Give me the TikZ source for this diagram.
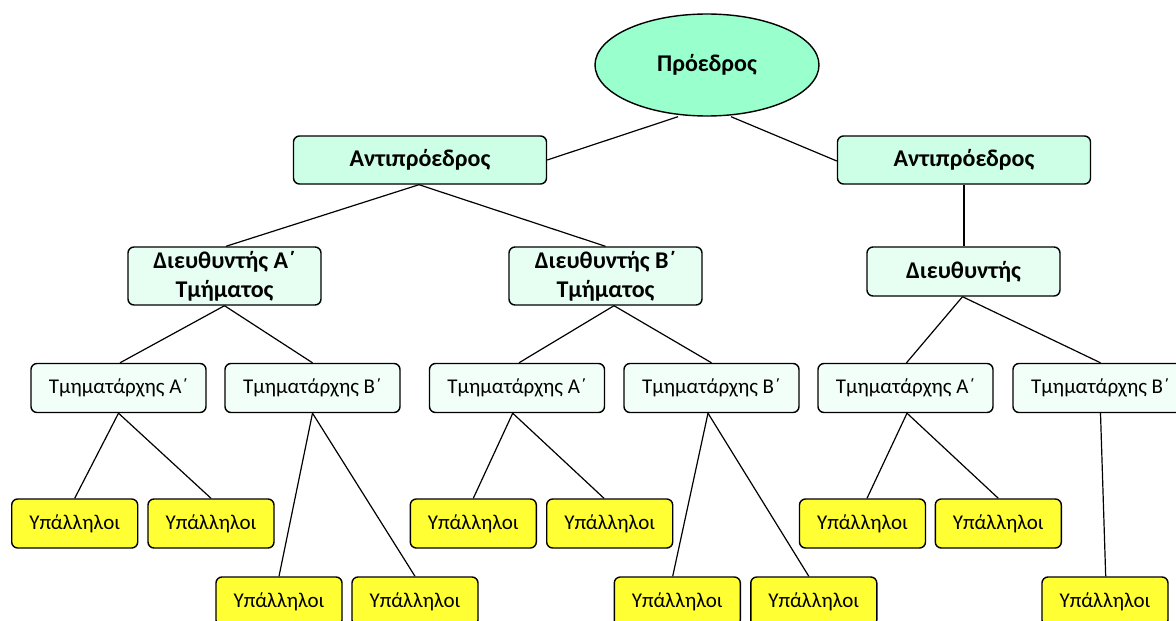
\documentclass[tikz,border=0pt]{standalone}
\usepackage{fontspec}
\setmainfont{Carlito}
\usetikzlibrary{shapes.geometric}
\definecolor{presfill}{RGB}{153,255,204}
\definecolor{vpfill}{RGB}{204,255,230}
\definecolor{dirfill}{RGB}{230,255,242}
\definecolor{tmfill}{RGB}{242,255,249}
\definecolor{empfill}{RGB}{255,255,51}
\tikzset{
  base/.style={draw=black, line width=1.4pt, rounded corners=6pt, inner sep=0pt, align=center,
    font=\fontsize{21}{27}\selectfont},
  boldtext/.style={font=\fontsize{24}{29}\selectfont\bfseries},
  presbox/.style={base, ellipse, rounded corners=0pt, fill=presfill, minimum width=224, minimum height=102, boldtext},
  vpbox/.style={base, fill=vpfill, minimum width=253, minimum height=48, boldtext},
  dirbox/.style={base, fill=dirfill, minimum width=193, minimum height=58, boldtext},
  tmbox/.style={base, fill=tmfill, minimum width=175, minimum height=49},
  empbox/.style={base, fill=empfill, minimum width=126, minimum height=49},
  link/.style={draw=black, line width=1.2pt}
}
\begin{document}
\begin{tikzpicture}[x=1pt,y=-1pt]
\useasboundingbox (0,0) rectangle (1176,621);
\clip (0,0) rectangle (1176,621);
% level 0
\node[presbox] (pres) at (707,65) {Πρόεδρος};
% level 1
\node[vpbox] (vpL) at (420,160) {Αντιπρόεδρος};
\node[vpbox] (vpR) at (964,160) {Αντιπρόεδρος};
% level 2
\node[dirbox] (dA) at (224.5,276) {Διευθυντής Α΄\\Τμήματος};
\node[dirbox] (dB) at (605.5,276) {Διευθυντής Β΄\\Τμήματος};
\node[dirbox, minimum height=49] (dC) at (963.5,271.5) {Διευθυντής};
% level 3
\node[tmbox] (tA1) at (118.5,388) {Τμηματάρχης Α΄};
\node[tmbox] (tB1) at (312.5,388) {Τμηματάρχης Β΄};
\node[tmbox] (tA2) at (517,388) {Τμηματάρχης Α΄};
\node[tmbox] (tB2) at (711.5,388) {Τμηματάρχης Β΄};
\node[tmbox] (tA3) at (905.5,388) {Τμηματάρχης Α΄};
\node[tmbox] (tB3) at (1100.5,388) {Τμηματάρχης Β΄};
% level 4, row 1
\node[empbox] (e1) at (74.7,523.5) {Υπάλληλοι};
\node[empbox] (e2) at (211,523.5) {Υπάλληλοι};
\node[empbox] (e3) at (473.3,523.5) {Υπάλληλοι};
\node[empbox] (e4) at (609.7,523.5) {Υπάλληλοι};
\node[empbox] (e5) at (862.5,523.5) {Υπάλληλοι};
\node[empbox] (e6) at (998.3,523.5) {Υπάλληλοι};
% level 4, row 2
\node[empbox] (f1) at (279,601.5) {Υπάλληλοι};
\node[empbox] (f2) at (415,601.5) {Υπάλληλοι};
\node[empbox] (f3) at (677.3,601.5) {Υπάλληλοι};
\node[empbox] (f4) at (813.8,601.5) {Υπάλληλοι};
\node[empbox] (f5) at (1105,601.5) {Υπάλληλοι};
% connectors
\draw[link] ([xshift=-29]pres.south) -- (vpL.east);
\draw[link] ([xshift=24]pres.south) -- ([yshift=-1]vpR.west);
\draw[link] ([xshift=-1]vpL.south) -- ([xshift=1.5]dA.north);
\draw[link] ([xshift=-1]vpL.south) -- (dB.north);
\draw[link] (vpR.south) -- (vpR.south |- dC.north);
\draw[link] (dA.south) -- ([xshift=1.5]tA1.north);
\draw[link] (dA.south) -- (tB1.north);
\draw[link] ([xshift=8.5]dB.south) -- ([xshift=2]tA2.north);
\draw[link] ([xshift=8.5]dB.south) -- (tB2.north);
\draw[link] ([xshift=-1]dC.south) -- ([xshift=1]tA3.north);
\draw[link] ([xshift=-1]dC.south) -- (tB3.north);
\draw[link] (tA1.south) -- (e1.north);
\draw[link] (tA1.south) -- (e2.north);
\draw[link] (tB1.south) -- (f1.north);
\draw[link] (tB1.south) -- (f2.north);
\draw[link] ([xshift=-4.3]tA2.south) -- (e3.north);
\draw[link] ([xshift=-4.3]tA2.south) -- ([xshift=-5.7]e4.north);
\draw[link] ([xshift=-3.5]tB2.south) -- ([xshift=-4.6]f3.north);
\draw[link] ([xshift=-3.5]tB2.south) -- ([xshift=-5]f4.north);
\draw[link] ([xshift=1.5]tA3.south) -- ([xshift=4.5]e5.north);
\draw[link] ([xshift=1.5]tA3.south) -- (e6.north);
\draw[link] (tB3.south) -- ([xshift=0.7]f5.north);
\end{tikzpicture}
\end{document}
